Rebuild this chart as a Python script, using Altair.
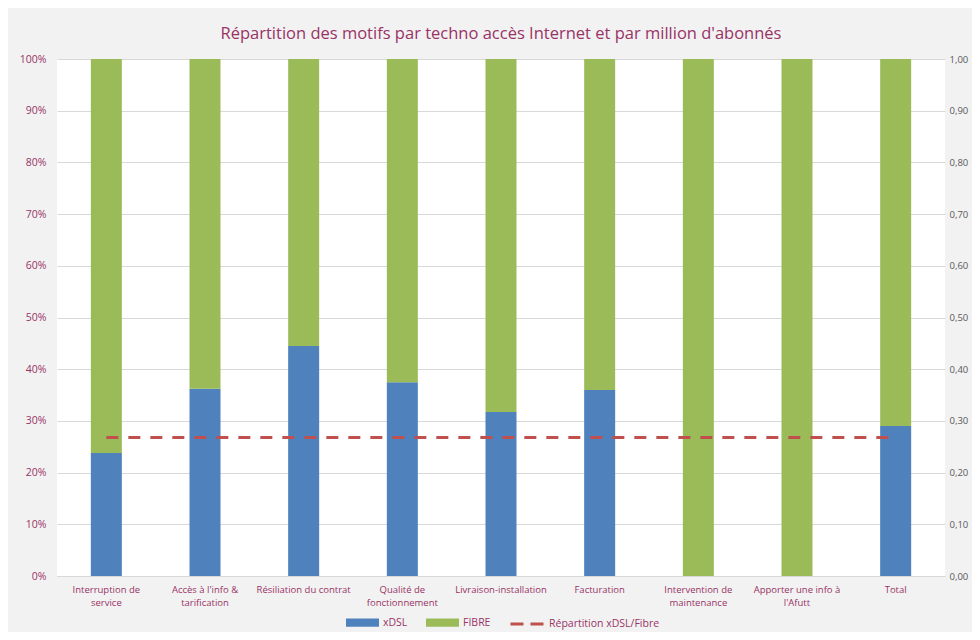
import altair as alt
import pandas as pd

categories = [
    "Interruption de|service",
    "Accès à l'info &|tarification",
    "Résiliation du contrat",
    "Qualité de|fonctionnement",
    "Livraison-installation",
    "Facturation",
    "Intervention de|maintenance",
    "Apporter une info à|l'Afutt",
    "Total",
]
xdsl = [0.238, 0.362, 0.445, 0.375, 0.317, 0.360, 0.0, 0.0, 0.290]
fibre = [0.762, 0.638, 0.555, 0.625, 0.683, 0.640, 1.0, 1.0, 0.710]
ratio = [0.268, 0.268, 0.268, 0.268, 0.268, 0.268, 0.268, 0.268, 0.268]
series = ["xDSL", "FIBRE"]
line_label = "Répartition xDSL/Fibre"
left_ticks = [0, 0.1, 0.2, 0.3, 0.4, 0.5, 0.6, 0.7, 0.8, 0.9, 1.0]

PURPLE = "#993366"
BLUE = "#4f81bd"
GREEN = "#9bbb59"
RED = "#c0504d"
FONT = "Open Sans, sans-serif"

rows = []
for c, a, b in zip(categories, xdsl, fibre):
    rows.append({"cat": c, "serie": "xDSL", "val": a, "ord": 0})
    rows.append({"cat": c, "serie": "FIBRE", "val": b, "ord": 1})
df_bars = pd.DataFrame(rows)
df_line = pd.DataFrame({"cat": categories, "val": ratio, "serie": [line_label] * len(categories)})

xenc = alt.X(
    "cat:N",
    sort=categories,
    scale=alt.Scale(paddingInner=0, paddingOuter=0),
    axis=alt.Axis(
        title=None,
        labelExpr="split(datum.label, '|')",
        labelAngle=0,
        ticks=False,
        domainColor="#d9d9d9",
        labelColor=PURPLE,
        labelFontSize=9.5,
        labelPadding=8,
        labelLimit=0,
        labelFont=FONT,
        labelLineHeight=13,
    ),
)

bars = alt.Chart(df_bars).mark_bar(width=31).encode(
    x=xenc,
    y=alt.Y(
        "val:Q",
        stack="zero",
        scale=alt.Scale(domain=[0, 1], nice=False),
        axis=alt.Axis(
            title=None,
            format=".0%",
            values=left_ticks,
            grid=True,
            gridColor="#d9d9d9",
            domain=False,
            ticks=False,
            labelPadding=11,
            labelColor=PURPLE,
            labelFontSize=10.5,
            labelFont=FONT,
        ),
    ),
    color=alt.Color(
        "serie:N",
        sort=series,
        scale=alt.Scale(domain=series, range=[BLUE, GREEN]),
        legend=alt.Legend(
            title=None,
            orient="none",
            legendX=289,
            legendY=547,
            direction="horizontal",
            symbolType="M-1,-0.25H1V0.25H-1Z",
            symbolSize=1089,
            symbolStrokeWidth=0,
            labelOffset=4,
            columnPadding=18,
            labelColor=PURPLE,
            labelFontSize=10.5,
            labelFont=FONT,
        ),
    ),
    order=alt.Order("ord:Q"),
)

line = alt.Chart(df_line).mark_line(strokeDash=[12, 10], strokeWidth=3).encode(
    x=alt.X("cat:N", sort=categories),
    y=alt.Y(
        "val:Q",
        scale=alt.Scale(domain=[0, 1], nice=False),
        axis=alt.Axis(
            title=None,
            orient="right",
            values=left_ticks,
            labelExpr="replace(format(datum.value, '.2f'), '.', ',')",
            grid=False,
            domain=False,
            ticks=False,
            labelPadding=4,
            labelColor="#595959",
            labelFontSize=9.5,
            labelFont=FONT,
        ),
    ),
    color=alt.Color(
        "serie:N",
        scale=alt.Scale(domain=[line_label], range=[RED]),
        legend=alt.Legend(
            title=None,
            orient="none",
            legendX=452,
            legendY=547,
            symbolType="stroke",
            symbolSize=1089,
            symbolDash=[13, 7],
            symbolStrokeWidth=3,
            labelOffset=4,
            labelColor=PURPLE,
            labelFontSize=10.5,
            labelFont=FONT,
        ),
    ),
)

chart = (
    alt.layer(bars, line)
    .resolve_scale(y="independent", color="independent")
    .properties(
        width=888,
        height=517,
        autosize=alt.AutoSizeParams(type="none"),
        padding={"left": 49, "top": 51, "right": 27, "bottom": 56},
        title=alt.Title(
            "Répartition des motifs par techno accès Internet et par million d'abonnés",
            color=PURPLE,
            fontSize=16.5,
            font=FONT,
            fontWeight="normal",
            anchor="middle",
            offset=12,
        ),
    )
    .configure(background="#f2f2f2")
    .configure_view(fill="white", stroke=None)
)

chart.save("out.html", embed_options={"renderer": "svg", "actions": False})
